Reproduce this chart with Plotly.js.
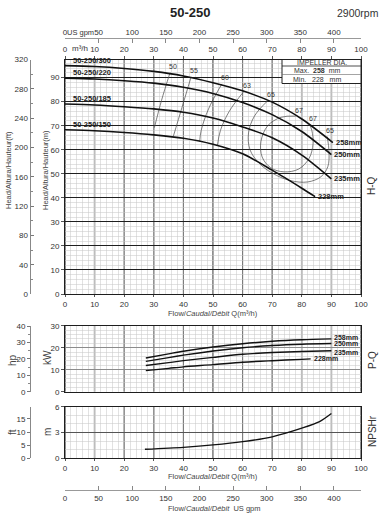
<!DOCTYPE html>
<html><head><meta charset="utf-8">
<script src="https://cdn.plot.ly/plotly-3.0.1.min.js"></script>
<style>html,body{margin:0;padding:0;background:#fff}#chart{width:380px;height:518px}</style>
</head><body><div id="chart"></div>
<script>
// ---------- data ----------
const diameters = ['258mm', '250mm', '235mm', '228mm'];
const models = ['50-250/300', '50-250/220', '50-250/185', '50-250/150'];
const impellerMax = 258, impellerMin = 228;

// H-Q curves (Q m3/h, H m)
const flow258 = [0, 10, 20, 30, 40, 50, 60, 70, 80, 90.5];
const head258 = [95, 94.6, 93.8, 92.6, 90.7, 87.9, 84.5, 79.8, 72.8, 63];
const flow250 = [0, 10, 20, 30, 40, 50, 60, 70, 80, 90];
const head250 = [89.8, 89.4, 88.7, 87.7, 86, 83.4, 79.6, 74.6, 67.6, 58];
const flow235 = [0, 10, 20, 30, 40, 50, 60, 70, 80, 90];
const head235 = [79, 78.6, 77.9, 77, 75.6, 73.2, 69.5, 65, 57.8, 47.9];
const flow228 = [0, 10, 20, 30, 40, 50, 60, 70, 80, 84.5];
const head228 = [68.3, 67.9, 67.2, 66.2, 64.8, 62.3, 58.3, 51.5, 44, 40.5];

// iso-efficiency lines (%)
const effLabels = ['50', '55', '60', '63', '65', '67'];
const eff50Q = [35.5, 32.6, 30.2];             const eff50H = [92.1, 80.5, 69.2];
const eff55Q = [42.6, 39.5, 36.6];             const eff55H = [90.3, 77.5, 65.6];
const eff60Q = [53, 48.5, 46, 45.5];           const eff60H = [87.4, 77, 68, 63.3];
const eff63Q = [60.5, 55.5, 52.5, 51.5];       const eff63H = [84.4, 76, 68, 61.8];
const eff65Q = [68.5, 64, 62, 62.5, 65.5, 70, 76, 82, 86.5, 88.8, 89.2, 88.6];
const eff65H = [80.4, 74, 67, 60, 54.5, 50.3, 47.2, 46.6, 48.8, 53, 59, 65.5];
const eff67Q = [78, 73, 68.5, 66.2, 66.6, 69.5, 74, 79, 82.5, 83.8, 83.4, 82.6];
const eff67H = [74, 73.5, 70, 63.5, 57, 52.5, 50.8, 52, 56.5, 62.5, 68, 70.5];

// P-Q curves (Q m3/h, P kW)
const pFlow258 = [27.3, 35, 40, 50, 60, 70, 80, 90];
const power258 = [15.3, 17.2, 18.4, 20.3, 21.8, 22.9, 23.6, 24.0];
const pFlow250 = [27.3, 35, 40, 50, 60, 70, 80, 90];
const power250 = [13.8, 15.5, 16.6, 18.5, 20, 21, 21.6, 21.9];
const pFlow235 = [27.3, 35, 40, 50, 60, 70, 80, 90];
const power235 = [11.9, 13.2, 14.1, 15.6, 17, 17.8, 18.3, 18.6];
const pFlow228 = [27.3, 35, 40, 50, 60, 70, 80, 83];
const power228 = [9.6, 10.6, 11.3, 12.3, 13.4, 14.1, 14.7, 14.9];

// NPSHr (Q m3/h, m)
const npshFlow = [27, 40, 50, 60, 70, 80, 86, 90];
const npshReq = [1.05, 1.28, 1.55, 1.93, 2.5, 3.5, 4.26, 5.2];

// tick labels
const flowTicks = [0, 10, 20, 30, 40, 50, 60, 70, 80, 90, 100];
const gpmTicks = [0, 50, 100, 150, 200, 250, 300, 350, 400];
const headTicks = [0, 10, 20, 30, 40, 50, 60, 70, 80, 90];
const headFtTicks = [0, 40, 80, 120, 160, 200, 240, 280, 320];
const kwTicks = [0, 10, 20, 30];
const hpTicks = [0, 10, 20, 30, 40];
const npshTicks = [0, 3, 6];
const npshFtTicks = [0, 5, 10, 15];
const grayFlowLines = [10, 80, 90];

// ---------- layout helpers ----------
const W = 380, H = 518;
const FONT = 'Liberation Sans, Arial, sans-serif';
const px = v => v / W, py = v => 1 - v / H;
const XD = [px(65), px(361)];
const YMAIN = [py(294), py(59.5)];
const YPOW = [py(391.7), py(325.7)];
const YNP = [py(458.3), py(406.7)];
const M3H_TO_GPM = 4.4029;
const M_TO_FT = 3.2808;
const KW_TO_HP = 1.341;
const tf = {size: 8, color: '#333', family: FONT};
const DARK = '#1e1e1e', MINOR = '#c6c6c6';

function gridX(anchor, labels) {
  return {domain: XD, anchor: anchor, range: [0, 100], tickmode: 'array', tickvals: flowTicks,
    ticktext: flowTicks.map(String), showticklabels: labels, ticks: labels ? 'outside' : '', ticklen: 2,
    tickcolor: '#555', tickfont: tf, showgrid: false,
    minor: {dtick: 2, tick0: 0, showgrid: true, gridcolor: MINOR, gridwidth: 0.5},
    showline: true, linecolor: DARK, linewidth: 1, mirror: true, zeroline: false, fixedrange: true};
}
function gridY(anchor, dom, rng, ticks, minor, gc) {
  return {domain: dom, anchor: anchor, range: rng, tickmode: 'array', tickvals: ticks,
    ticktext: ticks.map(String), ticks: 'outside', ticklen: 3, tickcolor: '#555', tickfont: tf,
    showgrid: true, gridcolor: gc, gridwidth: 1,
    minor: {dtick: minor, tick0: 0, showgrid: true, gridcolor: MINOR, gridwidth: 0.5},
    showline: true, linecolor: DARK, linewidth: 1, mirror: true, zeroline: false, fixedrange: true};
}
function freeY(over, pos, rng, ticks, minorDt, tickSide) {
  const a = {overlaying: over, anchor: 'free', position: pos, side: 'left', range: rng,
    tickmode: 'array', tickvals: ticks, ticktext: ticks.map(String), ticks: tickSide, ticklen: 3,
    tickcolor: '#777', tickfont: tf, showgrid: false, showline: true, linecolor: '#888',
    linewidth: 1, zeroline: false, fixedrange: true};
  if (minorDt) a.minor = {dtick: minorDt, tick0: 0, ticks: tickSide, ticklen: 2, tickcolor: '#888', showgrid: false};
  return a;
}
function freeGpm(over, pos, side) {
  return {overlaying: over, anchor: 'free', position: pos, side: side, range: [0, 100 * M3H_TO_GPM],
    tickmode: 'array', tickvals: gpmTicks, ticktext: gpmTicks.map(String), ticks: 'inside',
    ticklen: 4, tickcolor: '#888', tickfont: tf, showgrid: false, showline: true,
    linecolor: '#999', linewidth: 1, zeroline: false, fixedrange: true};
}

// ---------- traces ----------
const traces = [];
const hqFlows = [flow258, flow250, flow235, flow228];
const hqHeads = [head258, head250, head235, head228];
const pFlows = [pFlow258, pFlow250, pFlow235, pFlow228];
const pVals = [power258, power250, power235, power228];
const effQs = [eff50Q, eff55Q, eff60Q, eff63Q, eff65Q, eff67Q];
const effHs = [eff50H, eff55H, eff60H, eff63H, eff65H, eff67H];

effQs.forEach((q, i) => traces.push({x: q, y: effHs[i], xaxis: 'x', yaxis: 'y', mode: 'lines',
  line: {color: '#4a4a4a', width: 0.7, shape: 'spline', smoothing: 1}, hoverinfo: 'skip', showlegend: false}));
hqFlows.forEach((q, i) => traces.push({x: q, y: hqHeads[i], xaxis: 'x', yaxis: 'y', mode: 'lines',
  line: {color: '#111', width: 1.6, shape: 'spline', smoothing: 0.8}, hoverinfo: 'skip', showlegend: false}));
pFlows.forEach((q, i) => traces.push({x: q, y: pVals[i], xaxis: 'x2', yaxis: 'y2', mode: 'lines',
  line: {color: '#111', width: 1.4, shape: 'spline', smoothing: 0.8}, hoverinfo: 'skip', showlegend: false}));
traces.push({x: npshFlow, y: npshReq, xaxis: 'x3', yaxis: 'y3', mode: 'lines',
  line: {color: '#111', width: 1.3, shape: 'spline', smoothing: 0.8}, hoverinfo: 'skip', showlegend: false});

// invisible anchors so the secondary axes get drawn
const ghost = (xa, ya) => ({x: [null], y: [null], xaxis: xa, yaxis: ya, mode: 'lines',
  hoverinfo: 'skip', showlegend: false});
traces.push(ghost('x4', 'y'));
traces.push(ghost('x5', 'y'));
traces.push(ghost('x', 'y4'));
traces.push(ghost('x2', 'y5'));
traces.push(ghost('x3', 'y6'));
traces.push(ghost('x6', 'y3'));

// ---------- annotations ----------
const ann = [];
const f = (s, c) => ({size: s, color: c || '#333', family: FONT});
function at(text, x, y, o) {
  ann.push(Object.assign({text: text, x: px(x), y: py(y), xref: 'paper', yref: 'paper',
    xanchor: 'center', yanchor: 'middle', showarrow: false, font: f(8)}, o || {}));
}
at('<b>50-250</b>', 190.5, 12.5, {font: f(13, '#222')});
at('2900rpm', 381, 12.5, {xanchor: 'right', font: f(10.5)});
at('US gpm', 80.5, 33, {font: f(7.5)});
at('m³/h', 80, 48, {font: f(8)});
at('Head/Altura/Hauteur(ft)', 8, 170, {textangle: -90, font: f(7.5, '#444')});
at('Head/Altura/Hauteur(m)', 45, 170, {textangle: -90, font: f(7.5, '#444')});
at('hp', 12, 360, {textangle: -90, font: f(10, '#444')});
at('kW', 47, 358, {textangle: -90, font: f(10, '#444')});
at('ft', 12, 432, {textangle: -90, font: f(10, '#444')});
at('m', 47, 432, {textangle: -90, font: f(10, '#444')});
at('H-Q', 372, 186, {textangle: -90, font: f(10)});
at('P-Q', 372, 360, {textangle: -90, font: f(10)});
at('NPSHr', 372, 431, {textangle: -90, font: f(10)});
at('Flow/<i>Caudal/Débit</i> Q(m³/h)', 213, 313, {font: f(7.5, '#444')});
at('Flow/<i>Caudal/Débit</i> Q(m³/h)', 213, 476, {font: f(7.5, '#444')});
at('Flow/<i>Caudal/Débit</i>  US gpm', 214, 508, {font: f(7.5, '#444')});
// impeller box text
at('IMPELLER DIA.', 321.5, 62.8, {font: f(7)});
at('Max.  <b>' + impellerMax + '</b>  mm', 317, 70.4, {font: f(7)});
at('Min.   ' + impellerMin + '   mm', 317, 79, {font: f(7)});

// curve labels from data
hqFlows.forEach((q, i) => {
  ann.push({text: '<b>' + models[i] + '</b>', x: q[0], y: hqHeads[i][0], xref: 'x', yref: 'y',
    xanchor: 'left', yanchor: 'bottom', xshift: 6, yshift: -1, showarrow: false, font: f(7.5, '#222')});
  const n = q.length - 1;
  ann.push({text: '<b>' + diameters[i] + '</b>', x: q[n], y: hqHeads[i][n], xref: 'x', yref: 'y',
    xanchor: 'left', xshift: 1, showarrow: false, font: f(7.5, '#222')});
});
const pLabelShift = [1.5, 0, -1.5, 0];
pFlows.forEach((q, i) => {
  const n = q.length - 1;
  ann.push({text: '<b>' + diameters[i] + '</b>', x: q[n], y: pVals[i][n], xref: 'x2', yref: 'y2',
    xanchor: 'left', xshift: 1, yshift: pLabelShift[i], showarrow: false, font: f(7, '#222')});
});
effQs.forEach((q, i) => {
  const ends = (effLabels[i] === '65' || effLabels[i] === '67') ? [0, q.length - 1] : [0];
  ends.forEach(k => ann.push({text: effLabels[i], x: q[k], y: effHs[i][k], xref: 'x', yref: 'y',
    xshift: 3, yshift: 6, showarrow: false, font: f(7)}));
});

// ---------- shapes ----------
const shapes = [];
[['x', 'y'], ['x2', 'y2'], ['x3', 'y3']].forEach(([xa, ya]) => flowTicks.forEach(v => {
  const gray = grayFlowLines.indexOf(v) >= 0;
  shapes.push({type: 'line', xref: xa, yref: ya + ' domain', x0: v, x1: v, y0: 0, y1: 1,
    line: {color: gray ? '#b4b4b4' : DARK, width: gray ? 1.8 : 1}, layer: 'below'});
}));
shapes.push({type: 'rect', xref: 'paper', yref: 'paper', x0: px(282), x1: px(361), y0: py(83.5), y1: py(59.5),
  fillcolor: '#fff', line: {color: '#222', width: 1}, layer: 'above'});
shapes.push({type: 'line', xref: 'paper', yref: 'paper', x0: px(282), x1: px(361), y0: py(66), y1: py(66),
  line: {color: '#222', width: 0.8}, layer: 'above'});
shapes.push({type: 'line', xref: 'paper', yref: 'paper', x0: px(282), x1: px(361), y0: py(74.5), y1: py(74.5),
  line: {color: '#666', width: 0.6}, layer: 'above'});

const topX = {overlaying: 'x', anchor: 'y', side: 'top', range: [0, 100], tickmode: 'array',
  tickvals: flowTicks, ticktext: flowTicks.map(String), ticks: 'outside', ticklen: 3, tickcolor: '#555',
  tickfont: tf, showgrid: false, showline: false, zeroline: false, fixedrange: true};

const layout = {
  width: W, height: H, margin: {l: 0, r: 0, t: 0, b: 0}, paper_bgcolor: '#fff', plot_bgcolor: 'rgba(0,0,0,0)',
  showlegend: false, font: {family: FONT},
  xaxis: gridX('y', true),
  yaxis: gridY('x', YMAIN, [0, 320 / M_TO_FT], headTicks, 2, DARK),
  xaxis2: gridX('y2', false),
  yaxis2: gridY('x2', YPOW, [0, 30], kwTicks, 2, '#8c8c8c'),
  xaxis3: gridX('y3', true),
  yaxis3: gridY('x3', YNP, [0, 6], npshTicks, 1, '#555'),
  xaxis4: topX,
  xaxis5: freeGpm('x', py(38), 'top'),
  xaxis6: freeGpm('x3', py(490), 'bottom'),
  yaxis4: freeY('y', px(29.5), [0, 320], headFtTicks, 20, 'inside'),
  yaxis5: freeY('y2', px(30), [0, 30 * KW_TO_HP], hpTicks, 5, 'outside'),
  yaxis6: freeY('y3', px(30), [0, 6 * M_TO_FT], npshFtTicks, 0, 'outside'),
  annotations: ann, shapes: shapes
};
Plotly.newPlot('chart', traces, layout, {staticPlot: true, displayModeBar: false});
</script></body></html>
